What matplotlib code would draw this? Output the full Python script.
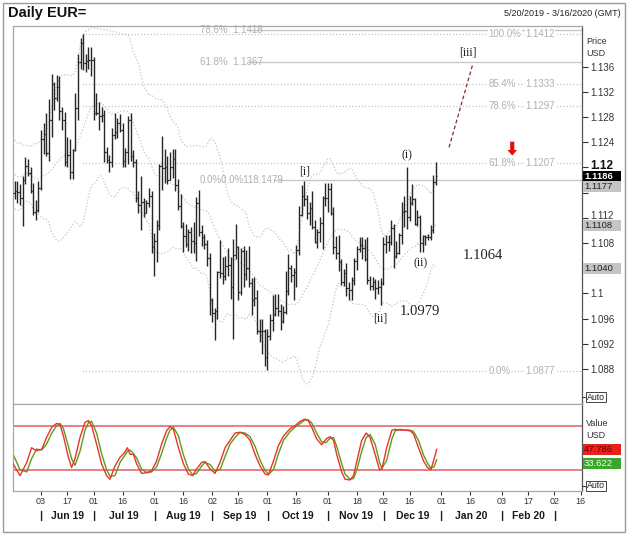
import matplotlib
matplotlib.use('Agg')
import matplotlib.pyplot as plt
import numpy as np
import pandas as pd
from matplotlib.patches import Rectangle
import matplotlib.transforms as mtransforms

plt.rcParams['font.family'] = ['Liberation Sans', 'DejaVu Sans']

# ---------------- data ----------------
start_date = '2019-05-20'
axis_end_date = '2020-03-18'

opens = [1.1159,1.1163,1.1161,1.1151,1.1180,1.1203,1.1192,1.1163,1.1130,1.1132,
         1.1168,1.1245,1.1253,1.1223,1.1276,1.1333,1.1311,1.1328,1.1289,1.1275,
         1.1209,1.1220,1.1193,1.1228,1.1295,1.1368,1.1398,1.1366,1.1369,1.1371,
         1.1370,1.1287,1.1287,1.1282,1.1284,1.1225,1.1212,1.1208,1.1252,1.1256,
         1.1271,1.1260,1.1211,1.1224,1.1276,1.1219,1.1208,1.1152,1.1140,1.1146,
         1.1128,1.1143,1.1155,1.1074,1.1083,1.1108,1.1203,1.1199,1.1200,1.1180,
         1.1201,1.1214,1.1172,1.1139,1.1107,1.1091,1.1078,1.1097,1.1083,1.1080,
         1.1143,1.1098,1.1089,1.1078,1.1057,1.0990,1.0969,1.0973,1.1034,1.1032,
         1.1027,1.1043,1.1045,1.1011,1.1061,1.1074,1.1002,1.1068,1.1031,1.1041,
         1.1017,1.0990,1.0993,1.0941,1.0941,1.0940,1.0899,1.0932,1.0958,1.0967,
         1.0977,1.0972,1.0957,1.0971,1.1004,1.1041,1.1030,1.1034,1.1069,1.1125,
         1.1155,1.1150,1.1127,1.1136,1.1105,1.1081,1.1098,1.1112,1.1152,1.1152,
         1.1166,1.1128,1.1074,1.1065,1.1050,1.1018,1.1032,1.1008,1.1006,1.1021,
         1.1052,1.1071,1.1077,1.1073,1.1055,1.1021,1.1012,1.1019,1.1009,1.1011,
         1.1017,1.1078,1.1082,1.1081,1.1104,1.1059,1.1064,1.1093,1.1129,1.1131,
         1.1121,1.1144,1.1150,1.1111,1.1122,1.1080,1.1091,1.1089,1.1089,1.1101,
         1.1177]
highs = [1.1178,1.1178,1.1174,1.1186,1.1216,1.1214,1.1201,1.1176,1.1148,1.1178,
         1.1260,1.1270,1.1286,1.1309,1.1348,1.1335,1.1347,1.1345,1.1296,1.1288,
         1.1248,1.1245,1.1229,1.1318,1.1380,1.1405,1.1412,1.1380,1.1392,1.1392,
         1.1375,1.1318,1.1304,1.1296,1.1291,1.1232,1.1220,1.1263,1.1286,1.1279,
         1.1285,1.1270,1.1231,1.1282,1.1286,1.1227,1.1214,1.1163,1.1187,1.1151,
         1.1148,1.1168,1.1163,1.1096,1.1117,1.1206,1.1250,1.1229,1.1219,1.1224,
         1.1229,1.1230,1.1182,1.1158,1.1114,1.1111,1.1103,1.1105,1.1113,1.1153,
         1.1164,1.1109,1.1094,1.1085,1.1065,1.0993,1.0977,1.1036,1.1085,1.1058,
         1.1059,1.1072,1.1058,1.1087,1.1110,1.1076,1.1072,1.1075,1.1069,1.1075,
         1.1024,1.1026,1.1006,1.0959,1.0960,1.0943,1.0944,1.0967,1.0998,1.0999,
         1.0999,1.0983,1.0980,1.1035,1.1063,1.1046,1.1040,1.1077,1.1139,1.1172,
         1.1179,1.1157,1.1145,1.1163,1.1117,1.1102,1.1121,1.1154,1.1175,1.1176,
         1.1176,1.1138,1.1091,1.1093,1.1054,1.1039,1.1048,1.1018,1.1026,1.1056,
         1.1075,1.1090,1.1089,1.1086,1.1089,1.1028,1.1026,1.1023,1.1021,1.1024,
         1.1089,1.1093,1.1093,1.1116,1.1110,1.1083,1.1096,1.1145,1.1154,1.1200,
         1.1154,1.1174,1.1152,1.1133,1.1124,1.1093,1.1093,1.1095,1.1108,1.1188,
         1.1208]
lows = [1.1150,1.1144,1.1140,1.1107,1.1174,1.1186,1.1160,1.1125,1.1116,1.1130,
        1.1164,1.1222,1.1219,1.1210,1.1249,1.1291,1.1306,1.1276,1.1260,1.1202,
        1.1200,1.1181,1.1182,1.1226,1.1276,1.1356,1.1355,1.1351,1.1356,1.1345,
        1.1276,1.1284,1.1260,1.1272,1.1208,1.1207,1.1193,1.1201,1.1245,1.1247,
        1.1256,1.1201,1.1200,1.1206,1.1210,1.1201,1.1146,1.1127,1.1101,1.1122,
        1.1127,1.1138,1.1065,1.1027,1.1050,1.1100,1.1165,1.1176,1.1174,1.1180,
        1.1184,1.1162,1.1133,1.1104,1.1066,1.1074,1.1067,1.1065,1.1065,1.1052,
        1.1092,1.1076,1.1070,1.1043,1.0966,1.0955,1.0926,1.0960,1.1025,1.1015,
        1.1022,1.1027,1.0992,1.0927,1.1055,1.0990,1.0997,1.1010,1.1021,1.1011,
        1.0966,1.0980,1.0936,1.0923,1.0904,1.0885,1.0879,1.0926,1.0941,1.0964,
        1.0965,1.0942,1.0953,1.0967,1.0998,1.1018,1.0990,1.1011,1.1061,1.1123,
        1.1139,1.1118,1.1108,1.1102,1.1080,1.1072,1.1081,1.1071,1.1139,1.1130,
        1.1125,1.1063,1.1055,1.1036,1.1014,1.1012,1.0996,1.0989,1.0990,1.1014,
        1.1037,1.1066,1.1055,1.1052,1.1015,1.1006,1.1005,1.0992,1.0999,1.0981,
        1.1014,1.1064,1.1067,1.1077,1.1040,1.1057,1.1063,1.1078,1.1106,1.1102,
        1.1115,1.1141,1.1108,1.1107,1.1066,1.1066,1.1077,1.1085,1.1085,1.1096,
        1.1172]
closes = [1.1163,1.1161,1.1151,1.1180,1.1203,1.1192,1.1163,1.1130,1.1132,1.1168,
          1.1245,1.1253,1.1223,1.1276,1.1333,1.1311,1.1328,1.1289,1.1275,1.1209,
          1.1220,1.1193,1.1228,1.1295,1.1368,1.1398,1.1366,1.1369,1.1371,1.1370,
          1.1287,1.1287,1.1282,1.1284,1.1225,1.1212,1.1208,1.1252,1.1256,1.1271,
          1.1260,1.1211,1.1224,1.1276,1.1219,1.1208,1.1152,1.1140,1.1146,1.1128,
          1.1143,1.1155,1.1074,1.1083,1.1108,1.1203,1.1199,1.1200,1.1180,1.1201,
          1.1214,1.1172,1.1139,1.1107,1.1091,1.1078,1.1097,1.1083,1.1080,1.1143,
          1.1098,1.1089,1.1078,1.1057,1.0990,1.0969,1.0973,1.1034,1.1032,1.1027,
          1.1043,1.1045,1.1011,1.1061,1.1074,1.1002,1.1068,1.1031,1.1041,1.1017,
          1.0990,1.0993,1.0941,1.0941,1.0940,1.0899,1.0932,1.0958,1.0967,1.0977,
          1.0972,1.0957,1.0971,1.1004,1.1041,1.1030,1.1034,1.1069,1.1125,1.1155,
          1.1150,1.1127,1.1136,1.1105,1.1081,1.1098,1.1112,1.1152,1.1152,1.1166,
          1.1128,1.1074,1.1065,1.1050,1.1018,1.1032,1.1008,1.1006,1.1021,1.1052,
          1.1071,1.1077,1.1073,1.1055,1.1021,1.1012,1.1019,1.1009,1.1011,1.1017,
          1.1078,1.1082,1.1081,1.1104,1.1059,1.1064,1.1093,1.1129,1.1131,1.1121,
          1.1144,1.1150,1.1111,1.1122,1.1080,1.1091,1.1089,1.1089,1.1101,1.1177,
          1.1186]
# closes of the 19 sessions before the visible range (Bollinger warm-up)
pre_closes = [1.1226,1.1153,1.1131,1.1150,1.1183,1.1215,1.1194,1.1171,1.1201,1.1198,
              1.1190,1.1190,1.1215,1.1233,1.1223,1.1205,1.1203,1.1174,1.1157]

# Stochastic (read at bar positions)
stoch_pos = [-0.6,2,4.6,6.4,8.3,10.3,12.1,14.1,15.9,17.2,18.5,20.4,21.6,22.9,24.8,26.7,28,29.2,
             31.1,33,34.9,36.2,38.1,40,41.9,42.8,43.8,45.1,46.3,48.2,50.1,52,53.9,55.8,57.7,59,
             60.3,62.2,64.1,66,67.6,69.1,71,72.3,74.2,76.1,78,79.9,81.8,83.7,85.6,87.5,89.4,
             91.3,93.2,95.1,96.4,98.3,100.2,102.1,104.6,106.5,108.4,110.3,111.5,112.8,114.7,
             116.6,118.3,119.8,121.1,122.3,124.3,125.5,127.4,128.7,130,131.8,133.5,135,136.9,
             138.6,139.5,141.3,143.3,144.5,146.4,148.3,150.2,151.5,153.4,155.3,156.8,158.1,
             159.3,160.3]
stoch_k = [28,12,30,50,46,48,64,78,83,82,66,37,23,35,64,84.5,87,80,55,28,12,7,25,37,44,50,
           41,41,28,15,16,18.6,32,55,73,79,75,50,28,14,12,21,30,31,21,15,30,50,60,70,71,68,60,
           41,25,14,13,32,53,66,76,80,86,89,87,78,62,54,62,65,60,41,16,7,6,12,32,60,70,64,41,
           20,21,50,74,75,74,74,73,69,50,32,23,20,34.5,47.786]
stoch_d = [41,20,17,35,48,47,55,70,80,83,76,52,35,26,45,74,84,86,70,42,20,11,12,30,40,45,
           47,42,36,21,16,17,24,42,63,74,78,66,40,21,13,15,25,30,27,18,20,38,55,64,71,70,65,
           52,33,19,14,20,42,60,72,78,83,88,88,84,70,58,57,63,64,52,27,14,7,8,20,45,64,68,55,
           30,22,33,62,73,75,74,74,72,60,40,29,22,24,33.622]

# Fibonacci levels
fib_right_pct = ['100.0%', '85.4%', '78.6%', '61.8%', '0.0%']
fib_right_val = [1.1412, 1.1333, 1.1297, 1.1207, 1.0877]
fib_left_txt = ['78.6%  1.1418', '61.8%  1.1367', '0.0%0.0%118.1479']
fib_left_val = [1.1418, 1.1367, 1.1180]

# Right-axis value boxes
price_boxes = [('1.1186', 1.1186), ('1.1177', 1.1177), ('1.1108', 1.1108), ('1.1040', 1.1040)]
stoch_boxes = [('47.786', 47.786), ('33.622', 33.622)]

price_ticks = [1.088, 1.092, 1.096, 1.1, 1.104, 1.108, 1.112, 1.116, 1.12, 1.124, 1.128, 1.132, 1.136]
price_tick_labels = ['1.088', '1.092', '1.096', '1.1', '', '1.108', '1.112', '', '1.12',
                     '1.124', '1.128', '1.132', '1.136']

day_tick_dates = ['2019-06-03', '2019-06-17', '2019-07-01', '2019-07-16', '2019-08-01', '2019-08-16',
                  '2019-09-02', '2019-09-16', '2019-10-01', '2019-10-16', '2019-11-01', '2019-11-18',
                  '2019-12-02', '2019-12-16', '2020-01-01', '2020-01-16', '2020-02-03', '2020-02-17',
                  '2020-03-02', '2020-03-16']
day_tick_labels = ['03', '17', '01', '16', '01', '16', '02', '16', '01', '16', '01', '18', '02', '16',
                   '01', '16', '03', '17', '02', '16']
month_starts = ['2019-06-03', '2019-07-01', '2019-08-01', '2019-09-02', '2019-10-01', '2019-11-01',
                '2019-12-02', '2020-01-01', '2020-02-03', '2020-03-02']
month_labels = ['Jun 19', 'Jul 19', 'Aug 19', 'Sep 19', 'Oct 19', 'Nov 19', 'Dec 19', 'Jan 20', 'Feb 20']

# Wave annotations (date, price, text)
wave_labels = [('2019-10-21', 1.1193, '[i]'), ('2019-12-13', 1.1220, '(i)'),
               ('2019-12-20', 1.1048, '(ii)'), ('2019-11-29', 1.0961, '[ii]'),
               ('2020-01-15', 1.1383, '[iii]')]
level_labels = [('2019-12-20', 1.0972, '1.0979'), ('2020-01-23', 1.1061, '1.1064')]
proj_dates = ['2020-01-06', '2020-01-17']
proj_prices = [1.1232, 1.1364]
arrow_date = '2020-02-07'
arrow_prices = [1.1241, 1.1219]

# ---------------- helpers ----------------
all_days = pd.bdate_range(start_date, axis_end_date)
pos = {d.strftime('%Y-%m-%d'): k for k, d in enumerate(all_days)}
def P(d):
    return pos[d]

n = len(closes)
idx = np.arange(n)
W, H = 628, 535
def fx(px): return px / W
def fy(py): return 1 - py / H

fig = plt.figure(figsize=(W / 100, H / 100), dpi=100)
fig.patch.set_facecolor('white')

ax = fig.add_axes([fx(13), fy(404), fx(582) - fx(13), fy(26) - fy(404)])
ax2 = fig.add_axes([fx(13), fy(491), fx(582) - fx(13), fy(404) - fy(491)])
XL = (-0.65, 215.5)
for a in (ax, ax2):
    a.set_xlim(*XL)
    a.set_facecolor('white')
    for s in ['left', 'top', 'bottom']:
        a.spines[s].set_color('#a8a8a8')
        a.spines[s].set_linewidth(0.9)
    a.spines['right'].set_color('#555555')
    a.spines['right'].set_linewidth(0.9)
ax.set_ylim(1.08246, 1.14246)
ax2.set_ylim(-9.0, 109.6)

# ---- Bollinger bands ----
cl_all = np.array(pre_closes + closes)
s = pd.Series(cl_all)
mid = s.rolling(20).mean().values[len(pre_closes):]
sd = s.rolling(20).std(ddof=0).values[len(pre_closes):]
band_kw = dict(color='#c4c4c4', lw=0.9, ls=(0, (1, 1.6)), zorder=1)
ax.plot(idx, mid + 2 * sd, **band_kw)
ax.plot(idx, mid, **band_kw)
ax.plot(idx, mid - 2 * sd, **band_kw)

# ---- Fibonacci lines ----
peak = int(np.argmax(highs))
fib_col = '#c4c4c4'
txt_col = '#b0b0b0'
for pct, v in zip(fib_right_pct, fib_right_val):
    ax.plot([peak - 0.5, XL[1]], [v, v], color=fib_col, lw=0.9, ls=(0, (1, 1.6)), zorder=1)
    ax.text(180.0, v, pct, fontsize=7, color=txt_col, va='center', ha='left',
            bbox=dict(fc='white', ec='none', pad=0.3), zorder=2)
    ax.text(194.0, v, f'{v:.4f}', fontsize=7, color=txt_col, va='center', ha='left',
            bbox=dict(fc='white', ec='none', pad=0.3), zorder=2)
line_starts = [88.5, 88.5, 98.6]
for t, v, x0 in zip(fib_left_txt, fib_left_val, line_starts):
    ax.plot([x0, XL[1]], [v, v], color='#c8c8c8', lw=1.0, zorder=1)
    ax.text(70.2, v, t, fontsize=7, color=txt_col, va='center', ha='left', zorder=2)

# ---- OHLC bars ----
bar_col = '#262626'
ax.vlines(idx, lows, highs, color=bar_col, lw=1.0, zorder=3)
ax.hlines(opens, idx - 0.5, idx, color=bar_col, lw=0.9, zorder=3)
ax.hlines(closes, idx, idx + 0.5, color=bar_col, lw=0.9, zorder=3)

# ---- annotations ----
serif = ['Liberation Serif', 'DejaVu Serif']
for d, v, t in wave_labels:
    ax.text(P(d), v, t, fontsize=8.5, family=serif, color='#222222', ha='center', va='center', zorder=4)
for d, v, t in level_labels:
    ax.text(P(d), v, t, fontsize=10.5, family=serif, color='#222222', ha='center', va='center', zorder=4)
ax.plot([P(proj_dates[0]), P(proj_dates[1])], proj_prices, color='#8a2a2a', lw=0.9,
        ls=(0, (3, 2)), zorder=4)
ax.annotate('', xy=(P(arrow_date), arrow_prices[1]), xytext=(P(arrow_date), arrow_prices[0]),
            arrowprops=dict(arrowstyle='simple,head_width=0.7,head_length=0.4,tail_width=0.3',
                            color='#e01010', lw=0, shrinkA=0, shrinkB=0), zorder=4)

# ---- price axis ----
ax.yaxis.tick_right()
ax.set_yticks(price_ticks)
ax.set_yticklabels(price_tick_labels)
ax.tick_params(axis='y', direction='out', length=4, width=0.8, labelsize=7, colors='#333333', pad=2)
ax.set_xticks([])
for lab in ax.get_yticklabels():
    if lab.get_text() == '1.12':
        lab.set_fontsize(8.5)
        lab.set_fontweight('bold')
        lab.set_color('#111111')
        lab.set_transform(lab.get_transform() + mtransforms.ScaledTranslation(0, 3 / 100, fig.dpi_scale_trans))
    if lab.get_text() == '1.112':
        lab.set_transform(lab.get_transform() + mtransforms.ScaledTranslation(0, 3 / 100, fig.dpi_scale_trans))

# ---- stochastic ----
ax2.axhline(80, color='#e06060', lw=1.1, zorder=1)
ax2.axhline(20, color='#e06060', lw=1.1, zorder=1)
ax2.plot(stoch_pos, stoch_d, color='#5f9a1e', lw=1.0, zorder=2)
ax2.plot(stoch_pos, stoch_k, color='#e8352b', lw=1.0, zorder=3)
ax2.set_yticks([])
ax2.set_xticks([P(d) for d in day_tick_dates])
ax2.set_xticklabels(day_tick_labels)
ax2.tick_params(axis='x', direction='out', length=3, width=0.8, labelsize=6.5, colors='#333333', pad=1.5)

trans = mtransforms.blended_transform_factory(ax2.transData, fig.transFigure)
for k, lab in enumerate(month_labels):
    c = (P(month_starts[k]) + P(month_starts[k + 1])) / 2
    fig.text(c, fy(516), lab, transform=trans, ha='center', va='center', fontsize=7.5,
             fontweight='bold', color='#1a1a1a')
for m in month_starts:
    fig.text(P(m), fy(516), '|', transform=trans, ha='center', va='center', fontsize=8,
             fontweight='bold', color='#1a1a1a')

# ---- right side labels / boxes ----
def fig_box(y_center, text, fc, tc, bold=False):
    fig.patches.append(Rectangle((fx(583), fy(y_center + 5.5)), fx(621) - fx(583), 11 / H,
                                 transform=fig.transFigure, fc=fc, ec='none', zorder=5))
    fig.text(fx(584), fy(y_center), text, fontsize=6.8, color=tc, va='center', ha='left',
             fontweight='bold' if bold else 'normal', zorder=6)

def price_to_py(p):
    y0, y1 = ax.get_ylim()
    return 404 - (p - y0) / (y1 - y0) * (404 - 26)

def stoch_to_py(v):
    y0, y1 = ax2.get_ylim()
    return 491 - (v - y0) / (y1 - y0) * (491 - 404)

box_styles = [('#000000', 'white', True), ('#c4c4c4', '#222222', False),
              ('#c4c4c4', '#222222', False), ('#c4c4c4', '#222222', False)]
box_offsets = [0, 5, 0, 0]
for (t, v), (fc, tc, b), off in zip(price_boxes, box_styles, box_offsets):
    fig_box(price_to_py(v) + off, t, fc, tc, b)
fig_box(stoch_to_py(stoch_boxes[0][1]), stoch_boxes[0][0], '#e8231c', '#6a0000')
fig_box(stoch_to_py(stoch_boxes[1][1]) + 4, stoch_boxes[1][0], '#3aa62a', '#eaffea')

fig.text(fx(586), fy(42), 'Price', fontsize=6.5, color='#333333', va='center')
fig.text(fx(586), fy(54), 'USD', fontsize=6.5, color='#333333', va='center')
fig.text(fx(586), fy(424), 'Value', fontsize=6.5, color='#333333', va='center')
fig.text(fx(586), fy(436), 'USD', fontsize=6.5, color='#333333', va='center')
for yc in (397, 486):
    fig.text(fx(587), fy(yc), 'Auto', fontsize=6.3, color='#222222', va='center', ha='left',
             bbox=dict(fc='white', ec='#444444', lw=0.7, pad=0.6))
    fig.lines.append(plt.Line2D([fx(582), fx(585)], [fy(yc), fy(yc)], transform=fig.transFigure,
                                color='#444444', lw=0.8))

# ---- title ----
fig.text(fx(8), fy(13), 'Daily EUR=', fontsize=10.5, fontweight='bold', color='#111111', va='center')
fig.text(fx(621), fy(13), '5/20/2019 - 3/16/2020 (GMT)', fontsize=6.5, color='#222222',
         va='center', ha='right')

# outer frame
fig.patches.append(Rectangle((fx(3), fy(532)), fx(625) - fx(3), (532 - 3) / H, transform=fig.transFigure,
                             fc='none', ec='#9a9a9a', lw=1.0, zorder=0))

fig.savefig('out.png', dpi=100, facecolor='white')
